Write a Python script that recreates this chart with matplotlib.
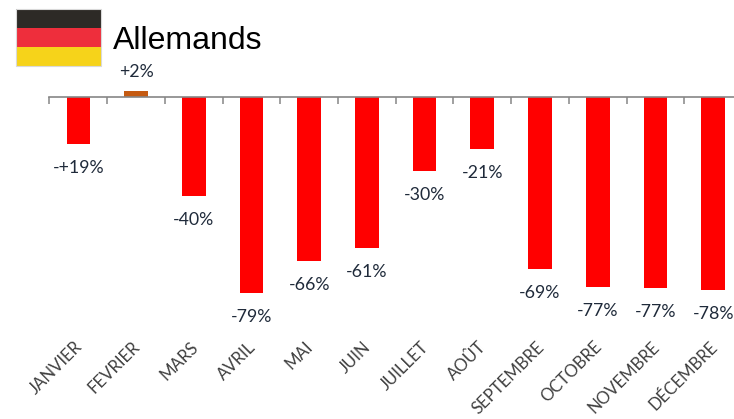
import matplotlib
matplotlib.use("Agg")
import matplotlib.pyplot as plt
from matplotlib.patches import Rectangle

W = 734
H = 419

mois = ['JANVIER', 'FEVRIER', 'MARS', 'AVRIL', 'MAI', 'JUIN', 'JUILLET', 'AOÛT',
        'SEPTEMBRE', 'OCTOBRE', 'NOVEMBRE', 'DÉCEMBRE']
valeurs = [-19, 2.4, -40, -79, -66, -61, -30, -21, -69.4, -76.6, -77.2, -78]
etiquettes = ['-+19%', '+2%', '-40%', '-79%', '-66%', '-61%', '-30%', '-21%',
              '-69%', '-77%', '-77%', '-78%']
couleurs = ['#ff0000', '#c55a11', '#ff0000', '#ff0000', '#ff0000', '#ff0000', '#ff0000',
            '#ff0000', '#ff0000', '#ff0000', '#ff0000', '#ff0000']
drapeau = ['#2d2a26', '#ee2e3c', '#f6d31a']

fig = plt.figure(figsize=(W / 100, H / 100), dpi=100)

# axes placed in pixels, zero line sits at y=97
ax = fig.add_axes([49.5 / W, 1 - 295.4 / H, 692.5 / W, 205.8 / H])
barres = ax.bar(range(12), valeurs, width=0.41, color=couleurs)
ax.set_xlim(-0.5, 11.5)
ax.set_ylim(-80, 3)

for s in ['top', 'left', 'right']:
    ax.spines[s].set_visible(False)
ax.spines['bottom'].set_position(('data', 0))
ax.spines['bottom'].set_color('#868686')
ax.spines['bottom'].set_linewidth(1.2)
ax.set_yticks([])
ax.set_xticks([i - 0.5 for i in range(13)])
ax.set_xticklabels([])
ax.tick_params(axis='x', direction='out', length=5, width=1.1, color='#868686')

textes = ax.bar_label(barres, labels=etiquettes, padding=11.5, fontsize=12.8, family='Lato',
                      color='#1f2a3a', clip_on=False)
textes[1].xyann = (0, 8)

for i, m in enumerate(mois):
    ax.annotate(m, xy=(i, 0), xytext=(-3, -174), textcoords='offset points',
                rotation=45, ha='right', va='top', rotation_mode='anchor',
                fontsize=12.1, family='Lato', color='#404040', annotation_clip=False)

# flag
for k, c in enumerate(drapeau):
    fig.add_artist(Rectangle((16 / W, 1 - (28 + 19 * k) / H), 85 / W, 19 / H,
                             transform=fig.transFigure, facecolor=c, edgecolor='none'))
fig.add_artist(Rectangle((16 / W, 1 - 66 / H), 85 / W, 57 / H, transform=fig.transFigure,
                         facecolor='none', edgecolor='#d9d9d9', linewidth=0.8))

fig.text(113 / W, 1 - 41 / H, 'Allemands', fontsize=23, family='Liberation Sans',
         color='black', ha='left', va='center')

fig.savefig('out.png', dpi=100)
